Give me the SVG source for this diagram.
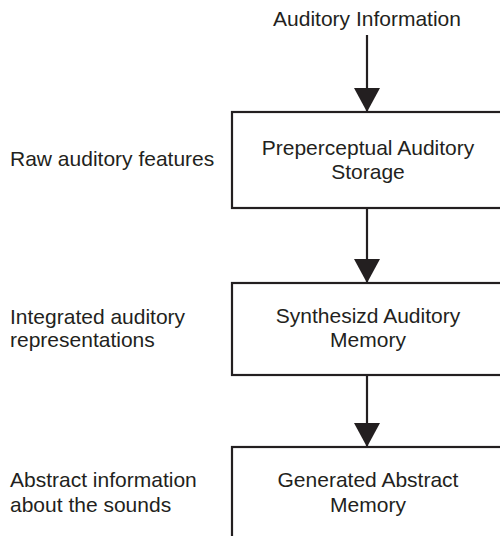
<svg xmlns="http://www.w3.org/2000/svg" width="500" height="536" viewBox="0 0 500 536">
<style>
text{font-family:"Liberation Sans",Arial,Helvetica,sans-serif;font-size:21px;fill:#231f20}
.c{text-anchor:middle}
.box{fill:#fff;stroke:#231f20;stroke-width:2.2}
.conn{stroke:#231f20;stroke-width:2.2;fill:none}
</style>
<defs>
<marker id="ah" markerUnits="userSpaceOnUse" markerWidth="24" markerHeight="26" refX="24" refY="13" orient="auto" viewBox="0 0 24 26">
<path d="M0,0 L24,13 L0,26 z" fill="#231f20"/>
</marker>
</defs>
<g id="input"><text class="c" x="367" y="26">Auditory Information</text></g>
<g id="node1">
<rect class="box" x="232" y="112" width="290" height="96"/>
<text class="c" x="368" y="155">Preperceptual Auditory</text>
<text class="c" x="368" y="179">Storage</text>
</g>
<g id="node2">
<rect class="box" x="232" y="283" width="290" height="92"/>
<text class="c" x="368" y="323">Synthesizd Auditory</text>
<text class="c" x="368" y="347">Memory</text>
</g>
<g id="node3">
<rect class="box" x="232" y="447" width="290" height="110"/>
<text class="c" x="368" y="487">Generated Abstract</text>
<text class="c" x="368" y="512">Memory</text>
</g>
<g id="label1"><text x="10" y="166">Raw auditory features</text></g>
<g id="label2"><text x="10" y="324">Integrated auditory</text><text x="10" y="347">representations</text></g>
<g id="label3"><text x="10" y="487">Abstract information</text><text x="10" y="512">about the sounds</text></g>
<g id="connectors">
<line class="conn" x1="367" y1="35" x2="367" y2="112" marker-end="url(#ah)"/>
<line class="conn" x1="367" y1="208" x2="367" y2="283" marker-end="url(#ah)"/>
<line class="conn" x1="367" y1="375" x2="367" y2="447" marker-end="url(#ah)"/>
</g>
</svg>
